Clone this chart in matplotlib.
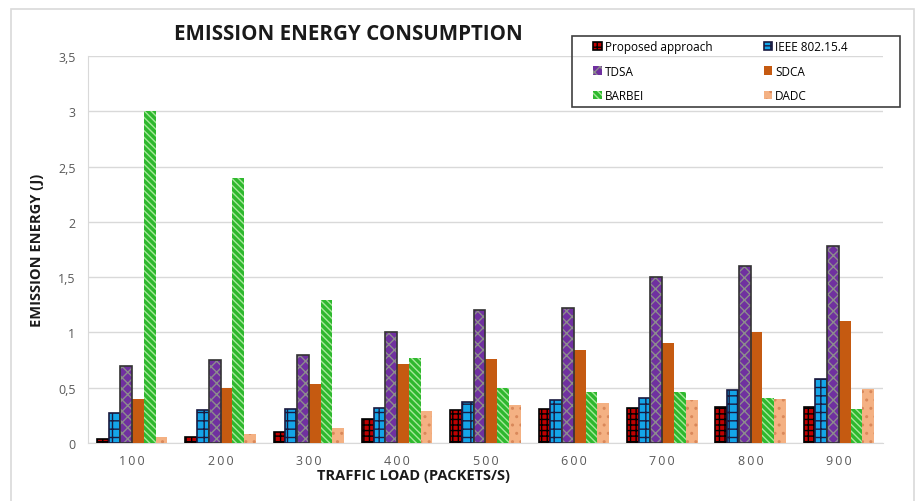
import matplotlib.pyplot as plt
import matplotlib.patches as mpatches
import numpy as np

loads = ['100', '200', '300', '400', '500', '600', '700', '800', '900']
proposed = [0.04, 0.05, 0.10, 0.22, 0.30, 0.31, 0.32, 0.33, 0.33]
ieee = [0.27, 0.30, 0.31, 0.32, 0.37, 0.39, 0.41, 0.48, 0.58]
tdsa = [0.70, 0.75, 0.80, 1.00, 1.20, 1.22, 1.50, 1.60, 1.78]
sdca = [0.40, 0.50, 0.53, 0.71, 0.76, 0.84, 0.90, 1.00, 1.10]
barbei = [3.00, 2.40, 1.29, 0.77, 0.50, 0.46, 0.46, 0.41, 0.31]
dadc = [0.05, 0.08, 0.14, 0.29, 0.34, 0.36, 0.39, 0.40, 0.49]
y_ticks = [0, 0.5, 1, 1.5, 2, 2.5, 3, 3.5]

plt.rcParams['font.family'] = ['Open Sans', 'DejaVu Sans']
plt.rcParams['hatch.linewidth'] = 1.0

fig = plt.figure(figsize=(9.17, 5.02), dpi=100)
ax = fig.add_axes([88 / 917, 1 - 444 / 502, (883 - 88) / 917, (444 - 57) / 502])

# outer chart border
fig.patches.append(mpatches.Rectangle((11 / 917, -0.02), (914 - 11) / 917, 1 - 10 / 502 + 0.02,
                                      transform=fig.transFigure, fill=False,
                                      edgecolor='#d9d9d9', linewidth=1.2))
# legend frame
fig.patches.append(mpatches.Rectangle((572 / 917, 1 - 108 / 502), (900 - 572) / 917, (108 - 37) / 502,
                                      transform=fig.transFigure, fill=False,
                                      edgecolor='#404040', linewidth=1.2, zorder=5))

x = np.arange(len(loads))
w = 0.8 / 6
offs = (np.arange(6) - 2.5) * w

b1 = ax.bar(x + offs[0], proposed, w, color='#c00000', edgecolor='black', hatch='+++', linewidth=1.2, zorder=3)
b2 = ax.bar(x + offs[1], ieee, w, color='#14a5e8', edgecolor='#1a1a40', hatch='++', linewidth=1.2, zorder=3)
b3 = ax.bar(x + offs[2], tdsa, w, color='#7030a0', edgecolor='#8c8c8c', hatch='xxx', linewidth=0, zorder=3)
ax.bar(x + offs[2], tdsa, w, fill=False, edgecolor='#333333', linewidth=1.2, zorder=4)
b4 = ax.bar(x + offs[3], sdca, w, color='#c55a11', linewidth=0, zorder=3)
b5 = ax.bar(x + offs[4], barbei, w, color='#2eb82e', edgecolor='#a6e89a', hatch='\\\\\\\\\\', linewidth=0, zorder=3)
b6 = ax.bar(x + offs[5], dadc, w, color='#f4b183', edgecolor='#d9885a', hatch='..', linewidth=0, zorder=3)

ax.set_xlim(-0.5, len(loads) - 0.5)
ax.set_ylim(0, 3.5)
ax.set_yticks(y_ticks)
ax.set_yticklabels([('%g' % v).replace('.', ',') for v in y_ticks])
ax.set_xticks(x)
ax.set_xticklabels(['\u2009'.join(s) for s in loads])
ax.tick_params(length=0, labelsize=9, labelcolor='#595959')
ax.tick_params(axis='y', pad=9)
ax.tick_params(axis='x', pad=8)
ax.grid(axis='y', color='#d9d9d9', linewidth=1, zorder=0)
for s in ['top', 'right']:
    ax.spines[s].set_visible(False)
for s in ['left', 'bottom']:
    ax.spines[s].set_color('#d9d9d9')

fig.text(348 / 917, 1 - 35 / 502, 'EMISSION ENERGY CONSUMPTION',
         ha='center', va='center', fontsize=14.8, fontweight='bold', color='#1a1a1a')
ax.set_ylabel('EMISSION ENERGY (J)', fontsize=10.5, fontweight='bold', color='#1a1a1a', labelpad=10)
ax.set_xlabel('TRAFFIC LOAD (PACKETS/S)', fontsize=10.5, fontweight='bold', color='#1a1a1a', labelpad=2)
ax.xaxis.set_label_coords(0.409, -0.065)

handles = [b1, b3, b5, b2, b4, b6]
labels = ['Proposed approach', 'TDSA', 'BARBEI', 'IEEE 802.15.4', 'SDCA', 'DADC']
leg = fig.legend(handles, labels, ncol=2, loc='upper left',
                 bbox_to_anchor=(591 / 917, 1 - 39 / 502),
                 fontsize=8.5, frameon=False,
                 handlelength=0.7, handleheight=0.7, handletextpad=0.3,
                 labelspacing=0.95, borderaxespad=0, borderpad=0.2, columnspacing=4.3)

fig.savefig('out.png', dpi=100)
